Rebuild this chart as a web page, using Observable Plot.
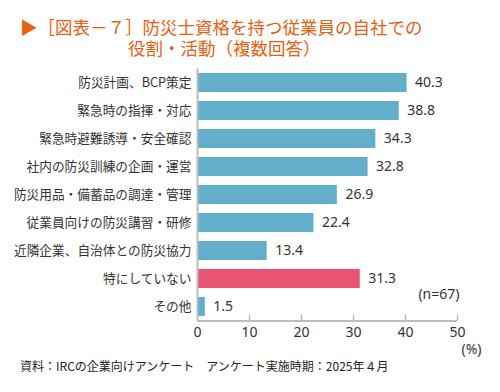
<!DOCTYPE html>
<html><head><meta charset="utf-8">
<script src="https://cdn.jsdelivr.net/npm/d3@7"></script>
<script src="https://cdn.jsdelivr.net/npm/@observablehq/plot@0.6"></script>
<style>
body{margin:0;background:#fff;font-family:"Noto Sans CJK JP",sans-serif;}
#wrap{position:relative;width:500px;height:392px;overflow:hidden;background:#fff;}
#title{position:absolute;left:20px;top:16px;color:#e8600e;font-size:17.5px;line-height:21px;white-space:nowrap;}
#title span{display:block;}
#chart{position:absolute;left:0;top:60px;}
#foot{position:absolute;left:20px;top:358px;font-size:12px;line-height:16px;color:#222;white-space:nowrap;}
</style></head>
<body>
<div id="wrap">
  <div id="title"><span>▶［図表－７］防災士資格を持つ従業員の自社での</span><span style="margin-left:108px;">役割・活動（複数回答）</span></div>
  <div id="chart"></div>
  <div id="foot">資料：IRCの企業向けアンケート　アンケート実施時期：2025年４月</div>
</div>
<script>
const categories = [
  "防災計画、BCP策定",
  "緊急時の指揮・対応",
  "緊急時避難誘導・安全確認",
  "社内の防災訓練の企画・運営",
  "防災用品・備蓄品の調達・管理",
  "従業員向けの防災講習・研修",
  "近隣企業、自治体との防災協力",
  "特にしていない",
  "その他"
];
const values = [40.3, 38.8, 34.3, 32.8, 26.9, 22.4, 13.4, 31.3, 1.5];
const highlighted = ["特にしていない"];
const xTicks = [0, 10, 20, 30, 40, 50];
const sampleNote = "(n=67)";
const unitNote = "(%)";

const data = categories.map((c, i) => ({category: c, value: values[i]}));
const blue = "#63aecb", pink = "#e85472", axisGrey = "#bdbdbd";

const chart = Plot.plot({
  width: 500,
  height: 300,
  marginLeft: 197,
  marginRight: 43,
  marginTop: 8.5,
  marginBottom: 39.5,
  style: {fontFamily: "'Noto Sans CJK JP', sans-serif", background: "transparent"},
  x: {domain: [0, 50], ticks: xTicks},
  y: {domain: categories, paddingInner: 0.32, paddingOuter: 0.16, label: null},
  marks: [
    Plot.barX(data, {x: "value", y: "category", fill: d => highlighted.includes(d.category) ? pink : blue}),
    Plot.text(data, {x: "value", y: "category", text: d => d.value.toFixed(1), textAnchor: "start", dx: 8, fontSize: 14, fill: "#333", fontFamily: "'Noto Sans', sans-serif"}),
    Plot.ruleX([0], {stroke: axisGrey, strokeWidth: 2}),
    Plot.ruleY([categories[categories.length - 1]], {stroke: axisGrey, strokeWidth: 2, dy: 14}),
    Plot.tickX(xTicks.slice(1), {x: d => d, stroke: axisGrey, strokeWidth: 1.5, insetTop: 246}),
    Plot.axisY({tickSize: 0, tickPadding: 6, fontSize: 12.7, color: "#333", label: null}),
    Plot.axisX({ticks: xTicks, tickSize: 0, tickPadding: 6, fontSize: 14, color: "#333", label: null, fontFamily: "'Noto Sans', sans-serif"}),
    Plot.text([sampleNote], {frameAnchor: "bottom-right", textAnchor: "end", dx: 2, dy: -22, fontSize: 14, fill: "#333", fontFamily: "'Noto Sans', sans-serif"}),
    Plot.text([unitNote], {frameAnchor: "bottom-right", textAnchor: "middle", dx: 14, dy: 33, fontSize: 14, fill: "#333", fontFamily: "'Noto Sans', sans-serif"})
  ]
});
document.getElementById("chart").appendChild(chart);
</script>
</body></html>
